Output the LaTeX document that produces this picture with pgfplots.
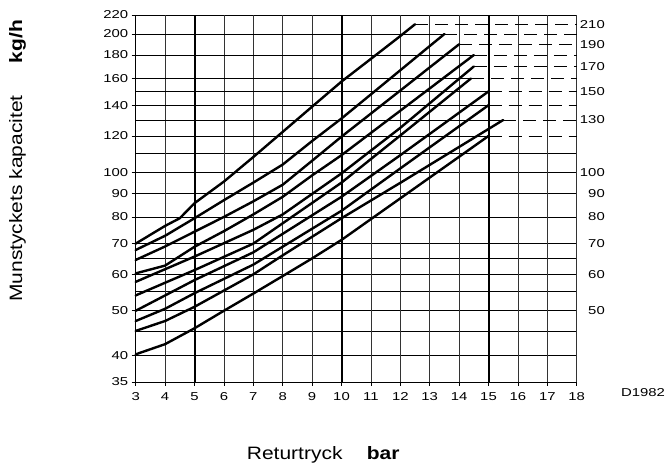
\documentclass[border=0pt]{standalone}
\usepackage{pgfplots}
\pgfplotsset{compat=1.18}
\usepackage{fontspec}
\setmainfont{Liberation Sans}
\newfontfamily\tickfont[FakeStretch=1.3]{Liberation Sans}
\newfontfamily\labfont[FakeStretch=1.17]{Liberation Sans}
\begin{document}
\begin{tikzpicture}
\useasboundingbox (-135.7bp,-83bp) rectangle (534.3bp,382bp);
\begin{axis}[
  at={(0,0)}, anchor=south west,
  scale only axis, width=441bp, height=367bp,
  xmin=3, xmax=18, ymin=35, ymax=220, ymode=log,
  axis line style={line width=0.8bp},
  xtick={3,4,5,6,7,8,9,10,11,12,13,14,15,16,17,18},
  xticklabels={3,4,5,6,7,8,9,10,11,12,13,14,15,16,17,18},
  ytick={35,40,50,60,70,80,90,100,120,140,160,180,200,220},
  yticklabels={35,40,50,60,70,80,90,100,120,140,160,180,200,220},
  minor ytick={},
  tick align=outside, major tick length=4bp,
  tick style={black, line width=0.8bp},
  xtick pos=left, ytick pos=left,
  tick label style={font=\tickfont\fontsize{11.5}{12}\selectfont},
  xticklabel style={yshift=-3bp},
  clip=false,
]
% horizontal full grid lines
\pgfplotsinvokeforeach{40,45,50,55,60,65,70,80,90,100,110}{
  \draw[line width=0.8bp] (axis cs:3,#1) -- (axis cs:18,#1);
}
% vertical grid lines
\pgfplotsinvokeforeach{4,6,7,8,9,11,12,13,14,16,17,18}{
  \draw[line width=0.8bp, black!80] (axis cs:#1,35) -- (axis cs:#1,220);
}
\pgfplotsinvokeforeach{5,10,15}{
  \draw[line width=2bp] (axis cs:#1,35) -- (axis cs:#1,220);
}
% partial solid grid lines
\addplot[line width=0.8bp] coordinates {(3,200) (13.5,200)};
\addplot[line width=0.8bp] coordinates {(3,180) (14.5,180)};
\addplot[line width=0.8bp] coordinates {(3,160) (14.4,160)};
\addplot[line width=0.8bp] coordinates {(3,150) (15,150)};
\addplot[line width=0.8bp] coordinates {(3,140) (15,140)};
\addplot[line width=0.8bp] coordinates {(3,130) (15.5,130)};
\addplot[line width=0.8bp] coordinates {(3,120) (15,120)};
% dashed continuation lines
\pgfplotsset{dl/.style={line width=0.8bp, dash pattern=on 13bp off 7bp}}
\addplot[dl] coordinates {(12.5,210) (18,210)};
\addplot[dl] coordinates {(13.5,200) (18,200)};
\addplot[dl] coordinates {(14,190) (18,190)};
\addplot[dl] coordinates {(14.5,180) (18,180)};
\addplot[dl] coordinates {(14.5,170) (18,170)};
\addplot[dl] coordinates {(14.4,160) (18,160)};
\addplot[dl] coordinates {(15,150) (18,150)};
\addplot[dl] coordinates {(15,140) (18,140)};
\addplot[dl] coordinates {(15.5,130) (18,130)};
\addplot[dl] coordinates {(15,120) (18,120)};
% curves
\pgfplotsset{cv/.style={black, line width=2.4bp, line join=round, line cap=round}}
\addplot[cv] coordinates {(3,70) (4,76.5) (4.5,79.5) (5,85.7) (6,95.5) (7,108) (8,122.5) (9,139) (10,157.6) (11,176.6) (12,198) (12.5,210)};
\addplot[cv] coordinates {(3,67.8) (4,72.8) (5,79.5) (6,87) (7,95) (8,104) (9,117) (10,131) (11,147.8) (12,166.8) (13,188.3) (13.5,200)};
\addplot[cv] coordinates {(3,64.5) (4,69) (5,74.3) (6,80) (7,86.5) (8,94) (9,106) (10,119.6) (12,150.7) (14,190)};
\addplot[cv] coordinates {(3,60.3) (4,62.7) (5,68.9) (6,74.5) (7,81) (8,88.5) (9,98.5) (10,109) (12,136.2) (14.5,180)};
\addplot[cv] coordinates {(3,57.8) (5,65.6) (7,75) (8,81) (10,99.5) (12,125) (14.5,170)};
\addplot[cv] coordinates {(3,54) (5,61.3) (7,70) (10,95) (12,120.3) (14.4,160)};
\addplot[cv] coordinates {(3,50) (5,58.3) (7,67) (10,88.5) (12,109) (15,150)};
\addplot[cv] coordinates {(3,47.5) (4,50.5) (5,54.6) (7,63) (10,82.5) (12,102) (15,140)};
\addplot[cv] coordinates {(3,45.2) (4,47.5) (5,51) (7,60) (8,66) (10,79.5) (12,94.9) (15.5,130)};
\addplot[cv] coordinates {(3,40.2) (4,42.3) (5,45.8) (6,50) (7,54.5) (8,59.5) (9,65) (10,71.3) (12,87.8) (15,120)};
% right labels
\pgfplotsinvokeforeach{50,60,70,80,90,100,130,150,170,190,210}{
  \node[anchor=east, inner sep=0pt, font=\tickfont\fontsize{11.5}{12}\selectfont] at (axis cs:18,#1) [xshift=28.3bp] {#1};
}
\end{axis}
\node[rotate=90, font=\labfont\fontsize{18}{20}\selectfont] at (-118.2bp,183.5bp) {Munstyckets kapacitet};
\node[rotate=90, font=\labfont\bfseries\fontsize{18}{20}\selectfont] at (-118.2bp,340.5bp) {kg/h};
\node[anchor=base west, inner sep=0pt, font=\labfont\fontsize{18}{20}\selectfont] at (111bp,-77.3bp) {Returtryck};
\node[anchor=base west, inner sep=0pt, font=\labfont\bfseries\fontsize{18}{20}\selectfont] at (231bp,-77.3bp) {bar};
\node[inner sep=0pt, font=\tickfont\fontsize{11.5}{12}\selectfont] at (507.3bp,-10.5bp) {D1982};
\end{tikzpicture}
\end{document}
